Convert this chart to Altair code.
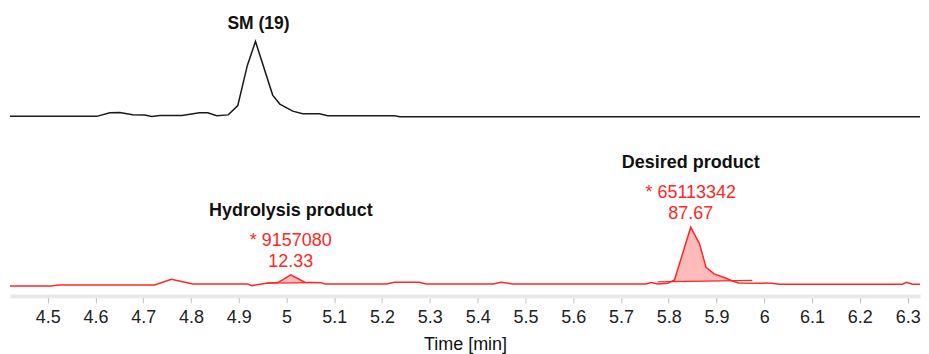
import altair as alt
import pandas as pd
import numpy as np

# ---- data ----
sm_time = [4.421, 4.603, 4.630, 4.651, 4.678, 4.703, 4.718, 4.735, 4.781, 4.818, 4.835,
           4.854, 4.878, 4.898, 4.918, 4.935, 4.971, 4.986, 5.013, 5.034, 5.069, 5.086,
           5.226, 5.237, 6.343]
sm_signal = [0, 0, 4.8, 5.3, 2.1, 1.7, 0, 1.3, 1.3, 4.8, 4.8,
             0.8, 2.0, 14.5, 68, 100, 28.4, 16.4, 7.0, 3.5, 3.5, 0.8,
             0.8, -0.5, -0.5]

rxn_time = [4.421, 4.508, 4.522, 4.724, 4.759, 4.804, 4.919, 4.927, 4.958, 4.982, 5.009,
            5.038, 5.073, 5.080, 5.209, 5.226, 5.278, 5.292, 5.432, 5.449, 5.473, 5.752,
            5.763, 5.777, 5.798, 5.812, 5.846, 5.864, 5.878, 5.895, 5.920, 5.933, 5.947,
            6.016, 6.031, 6.289, 6.298, 6.310, 6.343]
rxn_signal = [0, 0, 1.7, 1.7, 11.4, 3.4, 3.4, 0.5, 4.6, 5.6, 18.7,
              6.3, 5.6, 3.4, 3.4, 6.3, 6.3, 3.4, 3.4, 6.3, 3.4, 3.4,
              5.6, 3.4, 4.6, 10.2, 100, 72.7, 31.9, 20.4, 13.1, 8.5, 5.1,
              4.6, 2.9, 2.9, 6.3, 2.9, 2.9]

sm_label = ["SM (19)"]
sm_apex_time = [4.935]
sm_apex_signal = [100]

peak_names = ["Hydrolysis product", "Desired product"]
peak_areas = ["* 9157080", "* 65113342"]
peak_percent = ["12.33", "87.67"]
peak_apex_time = [5.009, 5.846]
peak_apex_signal = [18.7, 100]
peak_start = [4.958, 5.777]
peak_end = [5.073, 5.975]
peak_base_start = [4.6, 6.8]
peak_base_end = [5.6, 9.3]

x_ticks = [4.5, 4.6, 4.7, 4.8, 4.9, 5.0, 5.1, 5.2, 5.3, 5.4, 5.5, 5.6, 5.7, 5.8, 5.9,
           6.0, 6.1, 6.2, 6.3]
x_title = "Time [min]"

# ---- tables ----
sm_df = pd.DataFrame({"time": sm_time, "signal": sm_signal})
rxn_df = pd.DataFrame({"time": rxn_time, "signal": rxn_signal})
sm_lab = pd.DataFrame({"label": sm_label, "time": sm_apex_time, "signal": sm_apex_signal})
peaks = pd.DataFrame({"name": peak_names, "area": peak_areas, "pct": peak_percent,
                      "time": peak_apex_time, "signal": peak_apex_signal,
                      "t0": peak_start, "t1": peak_end,
                      "b0": peak_base_start, "b1": peak_base_end})

fill_rows = []
for i in range(len(peak_names)):
    ts = [peak_start[i]] + [t for t in rxn_time if peak_start[i] < t < peak_end[i]] + [peak_end[i]]
    base = np.interp(ts, [peak_start[i], peak_end[i]], [peak_base_start[i], peak_base_end[i]])
    sig = np.interp(ts, rxn_time, rxn_signal)
    for t, b, s in zip(ts, base, sig):
        fill_rows.append({"peak": peak_names[i], "time": t, "base": b, "top": max(s, b)})
fill_df = pd.DataFrame(fill_rows)

FONT = "Liberation Sans"
RED = "#ff2626"
x_dom = [4.4212, 6.3259]
W = 911

x_scale = alt.Scale(domain=x_dom, nice=False, zero=False)
xs_hidden = alt.X("time:Q", scale=x_scale, axis=None)
xs_axis = alt.X("time:Q", scale=x_scale,
                axis=alt.Axis(values=x_ticks, format=".2~f", title=x_title, grid=False,
                              domainColor="#e8e8e8", domainWidth=4,
                              tickColor="#bdbdbd", tickSize=7, tickWidth=1,
                              labelFont=FONT, labelFontSize=18, labelColor="#222222",
                              labelPadding=6, titleFont=FONT, titleFontSize=18,
                              titleFontWeight="normal", titleColor="#111111",
                              titlePadding=9))

y_top = alt.Scale(domain=[-15.6, 144.4], nice=False, zero=False)
y_bot = alt.Scale(domain=[-17.0, 269.2], nice=False, zero=False)

top_line = alt.Chart(sm_df).mark_line(color="#1a1a1a", strokeWidth=1.5, clip=True).encode(
    x=xs_hidden, y=alt.Y("signal:Q", scale=y_top, axis=None))
top_text = alt.Chart(sm_lab).mark_text(font=FONT, fontSize=17.5, fontWeight="bold",
                                       color="#111111", dy=-17, dx=3, baseline="middle").encode(
    x=xs_hidden, y=alt.Y("signal:Q", scale=y_top, axis=None), text="label:N")
top = alt.layer(top_line, top_text).properties(width=W, height=120)

area = alt.Chart(fill_df).mark_area(color="#ffb3b3", opacity=0.9, clip=True).encode(
    x=xs_axis, y=alt.Y("top:Q", scale=y_bot, axis=None), y2="base:Q", detail="peak:N")
bot_line = alt.Chart(rxn_df).mark_line(color=RED, strokeWidth=1.5, clip=True).encode(
    x=xs_axis, y=alt.Y("signal:Q", scale=y_bot, axis=None))
base_rule = alt.Chart(peaks).mark_rule(color=RED, strokeWidth=1.2).encode(
    x=alt.X("t0:Q", scale=x_scale), x2="t1:Q",
    y=alt.Y("b0:Q", scale=y_bot, axis=None), y2="b1:Q")
name_txt = alt.Chart(peaks).mark_text(font=FONT, fontSize=18, fontWeight="bold",
                                      color="#111111", dy=-64, baseline="middle").encode(
    x=xs_axis, y=alt.Y("signal:Q", scale=y_bot, axis=None), text="name:N")
area_txt = alt.Chart(peaks).mark_text(font=FONT, fontSize=18, color=RED, dy=-34,
                                      baseline="middle").encode(
    x=xs_axis, y=alt.Y("signal:Q", scale=y_bot, axis=None), text="area:N")
pct_txt = alt.Chart(peaks).mark_text(font=FONT, fontSize=18, color=RED, dy=-13,
                                     baseline="middle").encode(
    x=xs_axis, y=alt.Y("signal:Q", scale=y_bot, axis=None), text="pct:N")

bottom = alt.layer(area, bot_line, base_rule, name_txt, area_txt, pct_txt).properties(
    width=W, height=168)

chart = alt.vconcat(top, bottom, spacing=0, bounds="flush").properties(
    padding={"left": 2, "top": 0, "right": 0, "bottom": 0}
).configure_view(stroke=None).configure_concat(spacing=0)

chart.save("out.html", embed_options={"renderer": "svg", "actions": False})
